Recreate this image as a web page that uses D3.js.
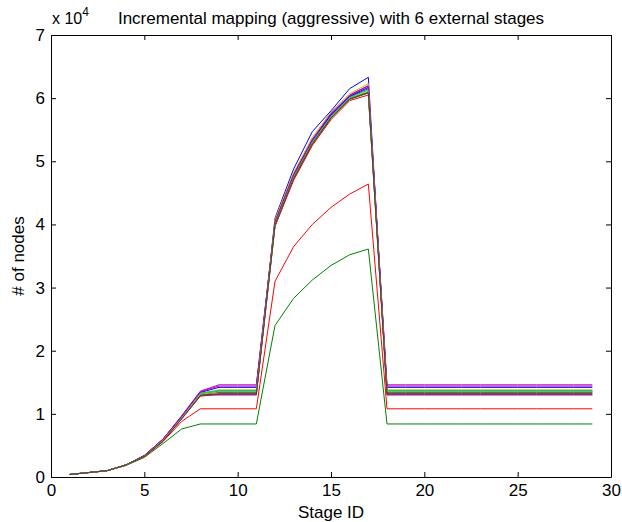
<!DOCTYPE html>
<html>
<head>
<meta charset="utf-8">
<script src="https://cdn.jsdelivr.net/npm/d3@7"></script>
<style>
  body { margin: 0; background: #fff; }
  svg { font-family: "Liberation Sans", Arial, Helvetica, sans-serif; }
</style>
</head>
<body>
<div id="chart"></div>
<script>
const width = 622;
const height = 522;
const margin = ({top: 35, right: 11, bottom: 45, left: 51});

const title = "Incremental mapping (aggressive) with 6 external stages";
const xLabel = "Stage ID";
const yLabel = "# of nodes";

const stages = d3.range(1, 30);
const xTicks = [0, 5, 10, 15, 20, 25, 30];
const yTicks = [0, 10000, 20000, 30000, 40000, 50000, 60000, 70000];

// MATLAB default color order
const colorOrder = ["#0000ff", "#008000", "#ff0000", "#00bfbf", "#bf00bf", "#bfbf00", "#404040"];

// one row per run, values for stages 1..29
const series = [
  [400, 700, 1000, 1900, 3300, 5800, 9300, 13000, 13000, 13000, 13000, 41000, 48800, 54700, 58000, 61500, 63300, 13000, 13000, 13000, 13000, 13000, 13000, 13000, 13000, 13000, 13000, 13000, 13000],
  [400, 700, 1000, 1800, 3100, 5300, 7600, 8400, 8400, 8400, 8400, 24000, 28300, 31200, 33500, 35200, 36100, 8400, 8400, 8400, 8400, 8400, 8400, 8400, 8400, 8400, 8400, 8400, 8400],
  [400, 700, 1000, 1850, 3200, 5600, 8800, 10800, 10800, 10800, 10800, 31000, 36500, 40000, 42700, 44800, 46400, 10800, 10800, 10800, 10800, 10800, 10800, 10800, 10800, 10800, 10800, 10800, 10800],
  [400, 700, 1000, 1900, 3300, 5800, 9400, 13200, 13500, 13500, 13500, 40000, 47500, 53000, 57200, 60000, 61000, 13500, 13500, 13500, 13500, 13500, 13500, 13500, 13500, 13500, 13500, 13500, 13500],
  [400, 700, 1000, 1900, 3400, 6000, 9700, 13600, 14600, 14600, 14600, 40500, 48000, 53500, 57500, 60500, 62000, 14600, 14600, 14600, 14600, 14600, 14600, 14600, 14600, 14600, 14600, 14600, 14600],
  [400, 700, 1000, 1900, 3300, 5900, 9500, 13300, 13800, 13800, 13800, 40800, 48200, 53800, 57800, 60700, 62300, 13800, 13800, 13800, 13800, 13800, 13800, 13800, 13800, 13800, 13800, 13800, 13800],
  [400, 700, 1000, 1900, 3300, 5800, 9300, 13100, 13400, 13400, 13400, 40200, 47700, 53200, 57300, 60200, 61500, 13400, 13400, 13400, 13400, 13400, 13400, 13400, 13400, 13400, 13400, 13400, 13400],
  [400, 700, 1000, 1900, 3400, 6000, 9600, 13400, 14200, 14200, 14200, 40300, 47800, 53300, 57400, 60300, 61700, 14200, 14200, 14200, 14200, 14200, 14200, 14200, 14200, 14200, 14200, 14200, 14200],
  [400, 700, 1000, 1900, 3300, 5800, 9300, 13000, 13600, 13600, 13600, 39800, 47200, 52700, 56800, 59800, 60800, 13600, 13600, 13600, 13600, 13600, 13600, 13600, 13600, 13600, 13600, 13600, 13600],
  [400, 700, 1000, 1900, 3300, 5700, 9200, 12800, 13100, 13100, 13100, 39700, 47000, 52500, 56600, 59600, 60500, 13100, 13100, 13100, 13100, 13100, 13100, 13100, 13100, 13100, 13100, 13100, 13100],
  [400, 700, 1000, 1900, 3300, 5900, 9400, 13300, 13700, 13700, 13700, 40100, 47600, 53100, 57100, 60100, 61300, 13700, 13700, 13700, 13700, 13700, 13700, 13700, 13700, 13700, 13700, 13700, 13700],
  [400, 700, 1000, 1900, 3400, 6000, 9600, 13500, 14400, 14400, 14400, 40400, 47900, 53400, 57600, 60400, 61900, 14400, 14400, 14400, 14400, 14400, 14400, 14400, 14400, 14400, 14400, 14400, 14400],
  [400, 700, 1000, 1900, 3300, 5800, 9300, 13100, 13500, 13500, 13500, 40000, 47400, 52900, 57000, 60000, 61100, 13500, 13500, 13500, 13500, 13500, 13500, 13500, 13500, 13500, 13500, 13500, 13500],
  [400, 700, 1000, 1900, 3300, 5700, 9200, 12900, 13200, 13200, 13200, 39900, 47300, 52800, 56900, 59900, 60900, 13200, 13200, 13200, 13200, 13200, 13200, 13200, 13200, 13200, 13200, 13200, 13200]
];

const x = d3.scaleLinear()
  .domain([0, 30])
  .range([margin.left, width - margin.right]);

const y = d3.scaleLinear()
  .domain([0, 70000])
  .range([height - margin.bottom, margin.top]);

const svg = d3.select("#chart")
  .append("svg")
  .attr("width", width)
  .attr("height", height)
  .attr("viewBox", [0, 0, width, height]);

svg.append("rect")
  .attr("x", 0).attr("y", 0)
  .attr("width", width).attr("height", height)
  .attr("fill", "#fff");

const line = d3.line()
  .x((d, i) => x(stages[i]))
  .y(d => y(d));

svg.append("g")
  .attr("fill", "none")
  .attr("stroke-width", 1)
  .selectAll("path")
  .data(series)
  .join("path")
  .attr("stroke", (d, i) => colorOrder[i % colorOrder.length])
  .attr("d", line);

// box with inward ticks on all sides
const styleAxis = g => {
  g.select(".domain").attr("stroke", "#000");
  g.selectAll(".tick line").attr("stroke", "#000");
  g.selectAll(".tick text").attr("fill", "#000").attr("font-size", 17);
};

svg.append("g")
  .attr("transform", `translate(0,${height - margin.bottom})`)
  .call(d3.axisBottom(x).tickValues(xTicks).tickSize(-5).tickSizeOuter(0).tickPadding(7))
  .call(styleAxis);

svg.append("g")
  .attr("transform", `translate(0,${margin.top})`)
  .call(d3.axisTop(x).tickValues(xTicks).tickSize(-5).tickSizeOuter(0).tickFormat(""))
  .call(styleAxis);

svg.append("g")
  .attr("transform", `translate(${margin.left},0)`)
  .call(d3.axisLeft(y).tickValues(yTicks).tickSize(-5).tickSizeOuter(0).tickPadding(6).tickFormat(d => d / 10000))
  .call(styleAxis);

svg.append("g")
  .attr("transform", `translate(${width - margin.right},0)`)
  .call(d3.axisRight(y).tickValues(yTicks).tickSize(-5).tickSizeOuter(0).tickFormat(""))
  .call(styleAxis);

svg.selectAll(".domain").attr("stroke-width", 1);

// exponent label
const expo = svg.append("text")
  .attr("x", margin.left + 1)
  .attr("y", 24)
  .attr("font-size", 16)
  .attr("fill", "#000");
expo.append("tspan").text("x 10");
expo.append("tspan").attr("dy", -8).attr("font-size", 12).text("4");

svg.append("text")
  .attr("x", (margin.left + width - margin.right) / 2)
  .attr("y", 24)
  .attr("text-anchor", "middle")
  .attr("font-size", 17)
  .attr("fill", "#000")
  .text(title);

svg.append("text")
  .attr("x", (margin.left + width - margin.right) / 2)
  .attr("y", 518)
  .attr("text-anchor", "middle")
  .attr("font-size", 17)
  .attr("fill", "#000")
  .text(xLabel);

svg.append("text")
  .attr("transform", `translate(24,${(margin.top + height - margin.bottom) / 2}) rotate(-90)`)
  .attr("text-anchor", "middle")
  .attr("font-size", 17)
  .attr("fill", "#000")
  .text(yLabel);
</script>
</body>
</html>
